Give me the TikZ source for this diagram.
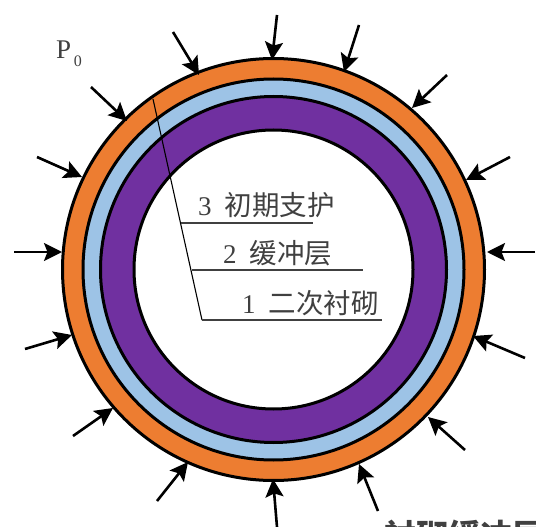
\documentclass[tikz,border=0pt]{standalone}
\usepackage{xcolor}
\usepackage{fontspec}
\usetikzlibrary{arrows.meta, positioning, calc}
\setmainfont{Liberation Serif}
\newfontfamily\cjk{Noto Sans CJK SC}
\definecolor{outerring}{HTML}{ED7D31}
\definecolor{midring}{HTML}{9DC3E6}
\definecolor{innerring}{HTML}{7030A0}
\definecolor{darkgray}{HTML}{404040}
\tikzset{
  ring/.style={circle, draw=black, line width=3pt, inner sep=0pt},
  arrow/.style={-{Stealth[length=18pt,width=18pt,inset=3.5pt]}, line width=2.6pt, color=black},
  leader/.style={line width=1.1pt, color=black},
  rule/.style={line width=1.2pt, color=darkgray},
  layer/.style={font=\fontsize{27}{27}\selectfont, text=darkgray, inner sep=0pt, anchor=base west},
}
\newcommand{\layertext}[2]{#1\hspace{13pt}{\cjk\fontsize{27.5}{27.5}\selectfont #2}}
\begin{document}
\begin{tikzpicture}[x=1pt,y=-1pt]
  \useasboundingbox (0,0) rectangle (536,527);
  % rings
  \coordinate (centre) at (273.5,269.5);
  \node[ring,fill=outerring,minimum size=422pt] (r3) at (centre) {};
  \node[ring,fill=midring,minimum size=381pt] (r2) at (centre) {};
  \node[ring,fill=innerring,minimum size=346pt] (r1) at (centre) {};
  \node[ring,fill=white,minimum size=279pt] (r0) at (centre) {};
  % load arrows
  \foreach \i/\sx/\sy/\tx/\ty in {
    a/277/15/272/60, b/359/25/344/72, c/447/75/412/108, d/510/157/466/180,
    e/535/252/487/252, f/525/358/473/336, g/465/450/428/417, h/378/511/359/464,
    k/277/527/273/479, l/157/501/188/462, m/73/436/113/408, n/25/349/72/335,
    o/14/252/62/252, p/37/157/82/177, q/91/87/127/121, s/173/32/199/75}{
    \coordinate (\i0) at (\sx,\sy);
    \coordinate (\i1) at (\tx,\ty);
    \draw[arrow] (\i0)--(\i1);
  }
  \node[font=\fontsize{27}{27}\selectfont,text=darkgray,inner sep=0pt,anchor=base west] (p0) at (56,59) {P\raisebox{-8pt}{\fontsize{16}{16}\selectfont\,0}};
  % leader and rules
  \coordinate (top) at (153,99);
  \coordinate (j3) at (181,223);
  \coordinate (j2) at (192,270);
  \coordinate (j1) at (202,320);
  \coordinate (e3) at (313,223);
  \coordinate (e2) at (363,270);
  \coordinate (e1) at (382,320);
  \draw[leader] (top)--(j1);
  \draw[rule] (j3)--(e3);
  \draw[rule] (j2)--(e2);
  \draw[rule] (j1)--(e1);
  \node[layer] (l3) at (198,215) {\layertext{3}{初期支护}};
  \node[layer] (l2) at (223,263) {\layertext{2}{缓冲层}};
  \node[layer] (l1) at (242,313) {\layertext{1}{二次衬砌}};
  % cut off at the lower edge
  \node[font=\fontsize{32}{32}\selectfont\bfseries\cjk,text=darkgray,inner sep=0pt,anchor=north west] (cut) at (384,520) {衬砌缓冲层};
\end{tikzpicture}
\end{document}
